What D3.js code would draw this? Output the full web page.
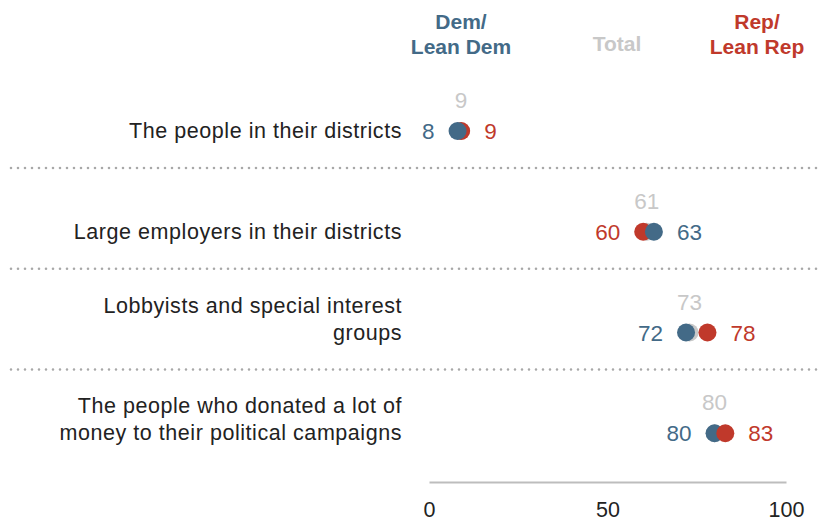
<!DOCTYPE html>
<html><head><meta charset="utf-8">
<script src="https://cdn.jsdelivr.net/npm/d3@7"></script>
<style>body{margin:0;background:#fff}svg{display:block;font-family:"Liberation Sans",Arial,sans-serif}</style>
</head><body><div id="chart"></div>
<script>
const categories = [
  ["The people in their districts"],
  ["Large employers in their districts"],
  ["Lobbyists and special interest", "groups"],
  ["The people who donated a lot of", "money to their political campaigns"]
];
const demValues = [8, 63, 72, 80];
const totalValues = [9, 61, 73, 80];
const repValues = [9, 60, 78, 83];
const tickValues = [0, 50, 100];
const seriesNames = {dem: ["Dem/", "Lean Dem"], total: ["Total"], rep: ["Rep/", "Lean Rep"]};

const W = 822, H = 523;
const DEM = "#436a87", REP = "#c0392b", TOT = "#c8c8c8";
const svg = d3.select("#chart").append("svg").attr("width", W).attr("height", H);

const x = d3.scaleLinear().domain([0, 100]).range([429, 786]);
const y = d3.scaleBand().domain(d3.range(categories.length)).range([68, 471]).padding(0);

// header
const hdr = svg.append("g").attr("font-weight", "bold").attr("font-size", 21).attr("text-anchor", "middle");
function header(lines, cx, color, baseY) {
  const n = lines.length;
  lines.forEach((t, i) => hdr.append("text").attr("x", cx).attr("y", baseY - (n - 1 - i) * 25).attr("fill", color).text(t));
}
header(seriesNames.dem, 461, DEM, 54);
header(seriesNames.total, 617, TOT, 51);
header(seriesNames.rep, 757, REP, 54);

// separators
svg.append("g").selectAll("line").data(d3.range(categories.length - 1)).join("line")
  .attr("x1", 11).attr("x2", W).attr("y1", i => y(i) + 100).attr("y2", i => y(i) + 100)
  .attr("stroke", "#a8a8a8").attr("stroke-width", 2.6).attr("stroke-linecap", "round")
  .attr("stroke-dasharray", "0,7");

const rows = svg.append("g").selectAll("g").data(categories).join("g")
  .attr("transform", (d, i) => `translate(0,${y(i) + 63})`);

// category labels
rows.each(function(lines) {
  const g = d3.select(this);
  const n = lines.length;
  lines.forEach((t, j) => g.append("text").attr("x", 402).attr("y", 7 - (n - 1 - j) * 27)
    .attr("text-anchor", "end").attr("font-size", 21.5).attr("letter-spacing", 0.55)
    .attr("fill", "#222").text(t));
});

const R = 9;
rows.each(function(d, i) {
  const g = d3.select(this);
  const dv = demValues[i], rv = repValues[i], tv = totalValues[i];
  g.append("circle").attr("cx", x(tv)).attr("cy", 0).attr("r", R).attr("fill", TOT);
  const order = i === 3 ? ["dem", "rep"] : ["rep", "dem"];
  order.forEach(k => g.append("circle").attr("cx", x(k === "dem" ? dv : rv)).attr("cy", 0).attr("r", R)
    .attr("fill", k === "dem" ? DEM : REP));
  const demLeft = dv <= rv;
  g.append("text").attr("x", x(dv) + (demLeft ? -23 : 23)).attr("y", 8)
    .attr("text-anchor", demLeft ? "end" : "start").attr("font-size", 22.5).attr("fill", DEM).text(dv);
  g.append("text").attr("x", x(rv) + (demLeft ? 23 : -23)).attr("y", 8)
    .attr("text-anchor", demLeft ? "start" : "end").attr("font-size", 22.5).attr("fill", REP).text(rv);
  g.append("text").attr("x", x(tv)).attr("y", -23).attr("text-anchor", "middle")
    .attr("font-size", 22.5).attr("fill", TOT).text(tv);
});

// axis
const axis = svg.append("g").attr("transform", "translate(0,482)")
  .call(d3.axisBottom(x).tickValues(tickValues).tickSize(0).tickPadding(20));
axis.select(".domain").attr("stroke", "#bdbdbd").attr("stroke-width", 2);
axis.selectAll("text").attr("font-size", 21.5).attr("fill", "#222").attr("font-family", "Liberation Sans, Arial, sans-serif");
</script></body></html>
